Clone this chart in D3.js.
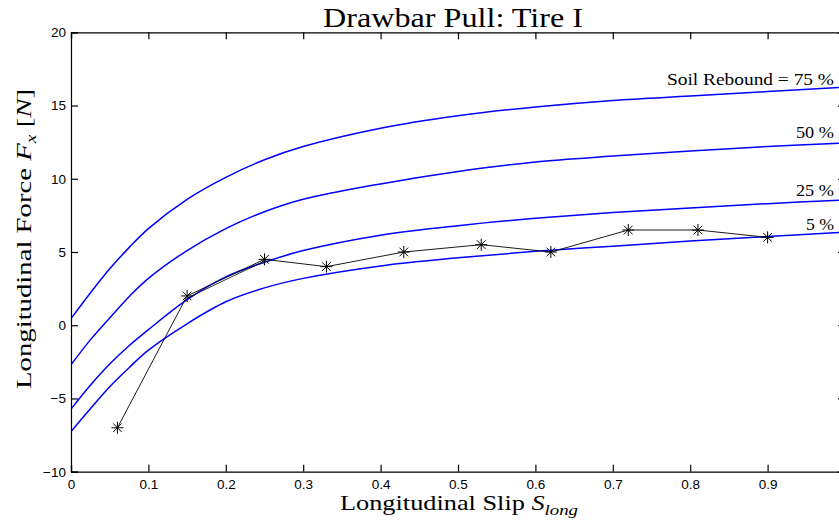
<!DOCTYPE html>
<html>
<head>
<meta charset="utf-8">
<title>Drawbar Pull: Tire I</title>
<style>
  body { margin: 0; background: #fff; }
  .tick text { font-family: "Liberation Sans", Arial, sans-serif; font-size: 13.5px; fill: #000; }
  .tex { font-family: "Liberation Serif", "Times New Roman", serif; fill: #000; }
</style>
</head>
<body>
<svg width="839" height="524"></svg>
<script src="https://cdn.jsdelivr.net/npm/d3@7"></script>
<script>

var slip = [0, 0.025, 0.05, 0.075, 0.1, 0.15, 0.2, 0.25, 0.3, 0.4, 0.5, 0.6, 0.7, 0.8, 0.9, 1.0];

// drawbar pull model curves, one per soil rebound value
var rebound75 = [0.45, 2.2, 3.85, 5.3, 6.6, 8.6, 10.1, 11.3, 12.2, 13.45, 14.3, 14.9, 15.35, 15.65, 15.95, 16.25];
var rebound50 = [-2.7, -1.0, 0.5, 1.95, 3.2, 5.1, 6.6, 7.75, 8.6, 9.65, 10.5, 11.15, 11.55, 11.9, 12.2, 12.45];
var rebound25 = [-5.73, -4.1, -2.65, -1.4, -0.3, 1.75, 3.3, 4.3, 5.1, 6.15, 6.8, 7.3, 7.7, 8.0, 8.3, 8.55];
var rebound5  = [-7.26, -5.7, -4.2, -2.9, -1.7, 0.1, 1.6, 2.55, 3.2, 4.05, 4.6, 5.05, 5.4, 5.75, 6.05, 6.35];

// measured points
var measSlip  = [0.06, 0.15, 0.25, 0.33, 0.43, 0.53, 0.62, 0.72, 0.81, 0.90];
var measForce = [-7, 2, 4.5, 4, 5, 5.5, 5, 6.5, 6.5, 6];

// second short trace between the 2nd and 3rd point
var repSlip  = [0.15, 0.25];
var repForce = [1.85, 4.38];

// curve labels (text, force where the label sits)
var labelText  = ["Soil Rebound = 75 %", "50 %", "25 %", "5 %"];
var labelForce = [16.4, 12.75, 8.8, 6.5];
var labelWidth = [167, 38, 38, 28];

var xTicks = [0, 0.1, 0.2, 0.3, 0.4, 0.5, 0.6, 0.7, 0.8, 0.9, 1];
var yTicks = [-10, -5, 0, 5, 10, 15, 20];

var svg = d3.select("svg");

var x = d3.scaleLinear().domain([0, 1]).range([71, 845]);
var y = d3.scaleLinear().domain([-10, 20]).range([471.7, 32.3]);

svg.append("defs").append("clipPath").attr("id", "plot")
  .append("rect")
    .attr("x", x(0)).attr("y", y(20))
    .attr("width", x(1) - x(0)).attr("height", y(-10) - y(20));

var curves = [rebound75, rebound50, rebound25, rebound5];

var line = d3.line()
    .x(function(d) { return x(d[0]); })
    .y(function(d) { return y(d[1]); })
    .curve(d3.curveCatmullRom.alpha(0.5));

var plot = svg.append("g").attr("clip-path", "url(#plot)");

plot.selectAll("path.model")
  .data(curves.map(function(c) { return slip.map(function(s, i) { return [s, c[i]]; }); }))
  .enter().append("path")
    .attr("class", "model")
    .attr("d", line)
    .attr("fill", "none")
    .attr("stroke", "#0000ff")
    .attr("stroke-width", 1.5);

var straight = d3.line()
    .x(function(d) { return x(d[0]); })
    .y(function(d) { return y(d[1]); });

var meas = measSlip.map(function(s, i) { return [s, measForce[i]]; });

plot.append("path")
    .datum(repSlip.map(function(s, i) { return [s, repForce[i]]; }))
    .attr("d", straight)
    .attr("fill", "none")
    .attr("stroke", "#000")
    .attr("stroke-width", 0.8);

plot.append("path")
    .datum(meas)
    .attr("d", straight)
    .attr("fill", "none")
    .attr("stroke", "#000")
    .attr("stroke-width", 0.9);

// matlab style '*' marker: plus and cross
function star(r) {
  var p = d3.path(), k = r * 0.72;
  p.moveTo(-r, 0); p.lineTo(r, 0);
  p.moveTo(0, -r); p.lineTo(0, r);
  p.moveTo(-k, -k); p.lineTo(k, k);
  p.moveTo(-k, k); p.lineTo(k, -k);
  return p.toString();
}

plot.selectAll("path.mark")
  .data(meas)
  .enter().append("path")
    .attr("class", "mark")
    .attr("transform", function(d) { return "translate(" + x(d[0]) + "," + y(d[1]) + ")"; })
    .attr("d", star(6))
    .attr("fill", "none")
    .attr("stroke", "#000")
    .attr("stroke-width", 1);

// axes, ticks pointing inwards like matlab
function fmt(d) { return d < 0 ? "\u2212" + Math.abs(d) : String(d); }
function xfmt(d) { return d >= 1 ? "" : fmt(d); }

svg.append("g")
    .attr("transform", "translate(0," + y(-10) + ")")
    .call(d3.axisBottom(x).tickValues(xTicks).tickSize(-7).tickPadding(8).tickFormat(xfmt));

svg.append("g")
    .attr("transform", "translate(0," + y(20) + ")")
    .call(d3.axisTop(x).tickValues(xTicks).tickSize(-7).tickFormat(""));

svg.append("g")
    .attr("transform", "translate(" + x(0) + ",0)")
    .call(d3.axisLeft(y).tickValues(yTicks).tickSize(-7).tickPadding(5).tickFormat(fmt));

svg.append("g")
    .attr("transform", "translate(" + x(1) + ",0)")
    .call(d3.axisRight(y).tickValues(yTicks).tickSize(-7).tickFormat(""));

svg.selectAll(".domain, .tick line").attr("stroke", "#000").attr("stroke-width", 1.2);

// curve labels
svg.selectAll("text.lab")
  .data(labelText)
  .enter().append("text")
    .attr("class", "tex lab")
    .attr("x", 834)
    .attr("y", function(d, i) { return y(labelForce[i]); })
    .attr("text-anchor", "end")
    .attr("font-size", 17)
    .attr("textLength", function(d, i) { return labelWidth[i]; })
    .attr("lengthAdjust", "spacingAndGlyphs")
    .text(function(d) { return d; });

// title
svg.append("text")
    .attr("class", "tex")
    .attr("x", 453)
    .attr("y", 27)
    .attr("text-anchor", "middle")
    .attr("font-size", 28)
    .attr("textLength", 260)
    .attr("lengthAdjust", "spacingAndGlyphs")
    .text("Drawbar Pull: Tire I");

// x label
var xl = svg.append("text")
    .attr("class", "tex")
    .attr("x", 459)
    .attr("y", 510)
    .attr("text-anchor", "middle")
    .attr("font-size", 21)
    .attr("textLength", 238)
    .attr("lengthAdjust", "spacingAndGlyphs");
xl.append("tspan").text("Longitudinal Slip ");
xl.append("tspan").attr("font-style", "italic").text("S");
xl.append("tspan").attr("font-style", "italic").attr("font-size", 15).attr("dy", 5).text("long");

// y label
var yl = svg.append("text")
    .attr("class", "tex")
    .attr("transform", "translate(31,239) rotate(-90)")
    .attr("text-anchor", "middle")
    .attr("font-size", 22)
    .attr("textLength", 300)
    .attr("lengthAdjust", "spacingAndGlyphs");
yl.append("tspan").text("Longitudinal Force ");
yl.append("tspan").attr("font-style", "italic").text("F");
yl.append("tspan").attr("font-style", "italic").attr("font-size", 15).attr("dy", 5).text("x");
yl.append("tspan").attr("dy", -5).text(" [");
yl.append("tspan").attr("font-style", "italic").text("N");
yl.append("tspan").text("]");

</script>
</body>
</html>
